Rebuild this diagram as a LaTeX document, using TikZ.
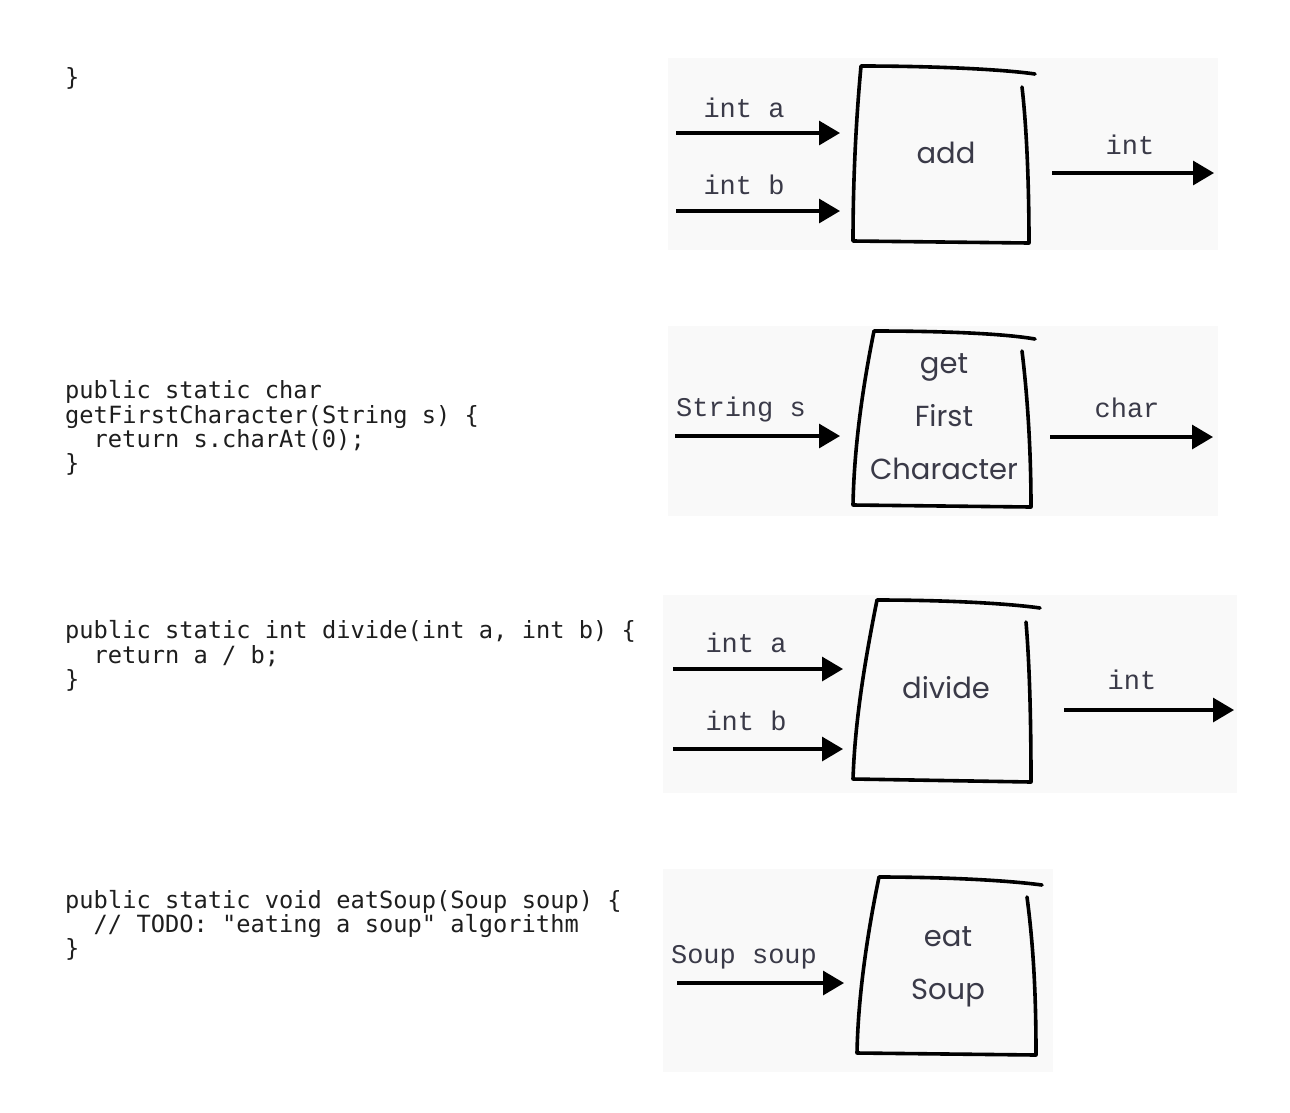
\documentclass[tikz,border=0pt]{standalone}
\usepackage{fontspec}
\setmonofont{DejaVu Sans Mono}
\newfontfamily\labelfont{Liberation Mono}
\newfontfamily\handfont{Poppins}
\usetikzlibrary{arrows.meta}
\definecolor{codecol}{HTML}{1E1E1E}
\definecolor{labcol}{HTML}{3A3A48}
\definecolor{panelbg}{HTML}{F9F9F9}
\begin{document}
\begin{tikzpicture}[x=1pt,y=-1pt,
  code/.style={anchor=mid west, inner sep=0pt, font=\ttfamily\fontsize{23.7}{24}\selectfont, text=codecol},
  arglabel/.style={inner sep=0pt, font=\labelfont\fontsize{27}{27}\selectfont, text=labcol},
  handtext/.style={inner sep=0pt, align=center, font=\handfont\fontsize{29}{53}\selectfont, text=labcol},
  flow/.style={line width=3.2pt, -{Triangle[length=21pt,width=24pt]}},
  sketch/.style={line width=3.6pt, line join=round, line cap=round},
  panel/.style={fill=panelbg, draw=none}]
\useasboundingbox (0,0) rectangle (1290,1112);
\fill[white] (0,0) rectangle (1290,1112);
% panels
\fill[panel] (668,58) rectangle (1218,250);
\fill[panel] (668,326) rectangle (1218,516);
\fill[panel] (663,595) rectangle (1237,793);
\fill[panel] (663,869) rectangle (1053,1072);

% ---------- code ----------
\node[code] (c0) at (65,83) {\}};
\node[code] (c1a) at (65,396) {public static char};
\node[code] (c1b) at (65,421) {getFirstCharacter(String s) \{};
\node[code] (c1c) at (93.5,445) {return s.charAt(0);};
\node[code] (c1d) at (65,469) {\}};
\node[code] (c2a) at (65,636) {public static int divide(int a, int b) \{};
\node[code] (c2b) at (93.5,661) {return a / b;};
\node[code] (c2c) at (65,685) {\}};
\node[code] (c3a) at (65,906) {public static void eatSoup(Soup soup) \{};
\node[code] (c3b) at (93.5,930) {// TODO: "eating a soup" algorithm};
\node[code] (c3c) at (65,954) {\}};

% ---------- panel 1: add ----------
\node[arglabel] (l1a) at (744,108) {int a};
\node[arglabel] (l1b) at (744,185) {int b};
\node[arglabel] (l1o) at (1130,145) {int};
\node[handtext] (add) at (946,153) {add};
\coordinate (p1as) at (676,133); \coordinate (p1ae) at (840,133);
\coordinate (p1bs) at (676,211); \coordinate (p1be) at (840,211);
\coordinate (p1os) at (1052,173); \coordinate (p1oe) at (1214,173);
\draw[flow] (p1as) -- (p1ae);
\draw[flow] (p1bs) -- (p1be);
\draw[flow] (p1os) -- (p1oe);
\draw[sketch] (1035,74) .. controls (1000,69) and (930,66) .. (861,66)
  .. controls (856,120) and (853,180) .. (853,241) -- (1029,243)
  .. controls (1029,190) and (1027,130) .. (1022,87);

% ---------- panel 2: getFirstCharacter ----------
\node[arglabel] (l2a) at (741,410) {String s};
\node[arglabel] (l2o) at (1127,408) {char};
\node[handtext] (gfc) at (944,417) {get\\First\\Character};
\coordinate (p2as) at (675,436); \coordinate (p2ae) at (840,436);
\coordinate (p2os) at (1050,437); \coordinate (p2oe) at (1213,437);
\draw[flow] (p2as) -- (p2ae);
\draw[flow] (p2os) -- (p2oe);
\draw[sketch] (1035,339) .. controls (1000,333) and (935,331) .. (874,331)
  .. controls (862,390) and (854,450) .. (853,505) -- (1031,507)
  .. controls (1031,455) and (1028,400) .. (1022,351);

% ---------- panel 3: divide ----------
\node[arglabel] (l3a) at (746,643) {int a};
\node[arglabel] (l3b) at (746,721) {int b};
\node[arglabel] (l3o) at (1132,680) {int};
\node[handtext] (divide) at (946,688) {divide};
\coordinate (p3as) at (673,669); \coordinate (p3ae) at (843,669);
\coordinate (p3bs) at (673,749); \coordinate (p3be) at (843,749);
\coordinate (p3os) at (1064,710); \coordinate (p3oe) at (1234,710);
\draw[flow] (p3as) -- (p3ae);
\draw[flow] (p3bs) -- (p3be);
\draw[flow] (p3os) -- (p3oe);
\draw[sketch] (1040,608) .. controls (1005,603) and (940,600) .. (877,600)
  .. controls (865,660) and (855,720) .. (853,779) -- (1031,782)
  .. controls (1031,730) and (1030,670) .. (1026,622);

% ---------- panel 4: eatSoup ----------
\node[arglabel] (l4a) at (744,957) {Soup soup};
\node[handtext] (eat) at (948,967) {eat\\Soup};
\coordinate (p4as) at (677,983); \coordinate (p4ae) at (844,983);
\draw[flow] (p4as) -- (p4ae);
\draw[sketch] (1042,885) .. controls (1005,880) and (940,877) .. (879,877)
  .. controls (866,940) and (858,1000) .. (857,1053) -- (1036,1055)
  .. controls (1036,1000) and (1034,950) .. (1027,897);
\end{tikzpicture}
\end{document}
